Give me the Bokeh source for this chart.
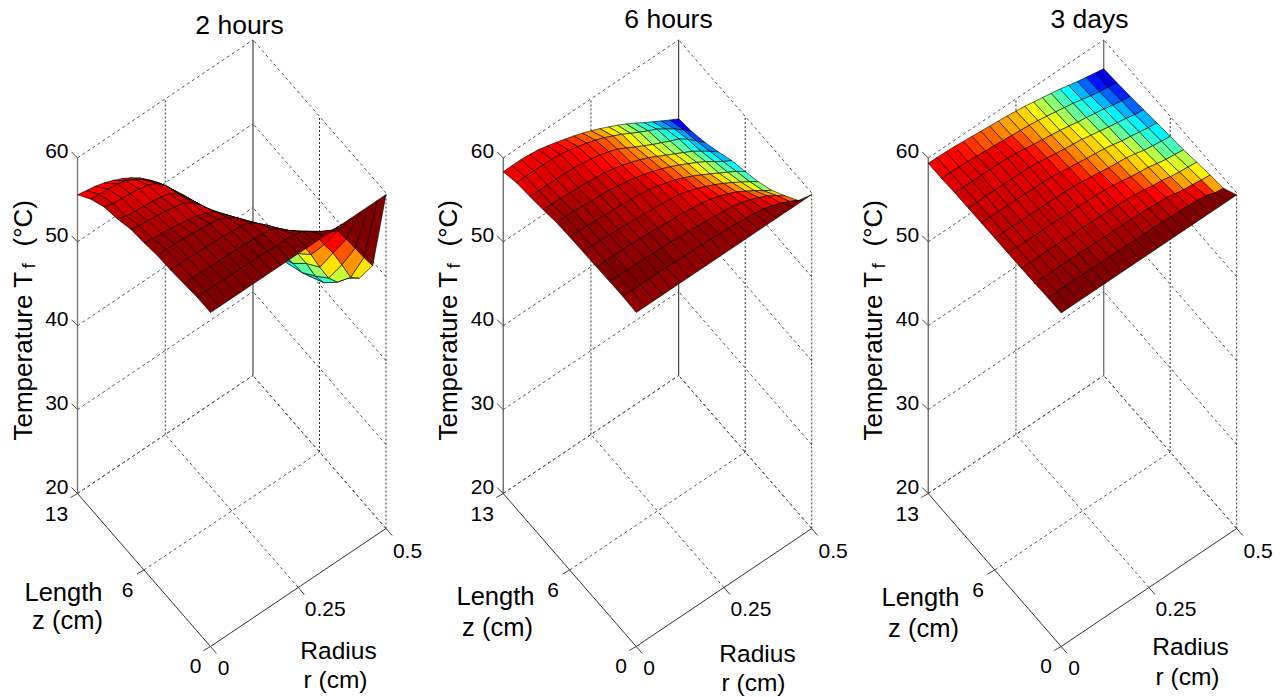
import numpy as np
from bokeh.embed import file_html
from bokeh.resources import INLINE
from bokeh.plotting import figure
from bokeh.layouts import row
from bokeh.models import Range1d, ColumnDataSource
from bokeh.core.properties import value

# ---------- data ----------
panel_titles = ["2 hours", "6 hours", "3 days"]
r_nodes = [0.0, 0.025, 0.05, 0.075, 0.1, 0.125, 0.15, 0.175, 0.2, 0.225, 0.25,
           0.275, 0.3, 0.325, 0.35, 0.375, 0.4, 0.425, 0.45, 0.475, 0.5]
z_nodes = [0.0, 1.3, 2.6, 3.9, 5.2, 6.5, 7.8, 9.1, 10.4, 11.7, 13.0]
r_ticks = [0.0, 0.25, 0.5]
r_labels = ["0", "0.25", "0.5"]
z_ticks = [0.0, 6.5, 13.0]
z_labels = ["0", "6", "13"]
t_ticks = [20, 30, 40, 50, 60]
t_labels = ["20", "30", "40", "50", "60"]

# Temperature (deg C); one row per z node, one column per r node
T_2h = [
 [59.8]*21,
 [59.8,59.8,59.8,59.8,59.75,59.75,59.7,59.7,59.65,59.6,59.6,59.5,59.2,58.5,57.8,57.0,56.5,54.8,53.0,51.2,49.5],
 [59.6,59.6,59.6,59.55,59.5,59.5,59.45,59.4,59.3,59.2,59.1,58.4,57.5,56.7,56.0,55.0,53.0,51.3,49.2,47.0,46.2],
 [59.4,59.4,59.4,59.35,59.3,59.25,59.2,59.1,59.0,58.7,57.9,57.0,56.0,55.0,53.5,52.0,50.0,47.8,45.8,44.6,44.3],
 [59.3,59.3,59.25,59.2,59.1,59.0,58.85,58.7,58.2,57.5,56.5,55.5,54.3,52.7,51.0,49.8,48.3,46.4,44.2,42.7,42.5],
 [59.0,58.8,58.7,58.6,58.4,58.2,58.0,57.6,57.1,56.1,55.1,54.0,52.4,50.7,49.0,47.5,46.2,44.6,42.8,41.6,41.4],
 [58.8,58.5,58.4,58.3,58.1,57.9,57.7,57.0,56.0,54.8,53.7,52.6,51.5,49.6,48.0,46.5,45.0,43.5,42.0,40.8,40.4],
 [58.2,57.8,57.7,57.6,57.5,57.3,57.0,56.2,55.0,53.8,52.5,51.3,50.2,49.0,47.4,45.9,44.5,43.1,41.7,40.4,39.5],
 [57.8,57.5,57.4,57.3,57.1,56.9,56.4,55.4,54.1,52.9,51.6,50.3,49.0,47.8,46.6,45.4,44.0,42.6,41.2,39.7,38.0],
 [56.9,56.8,56.7,56.6,56.3,55.7,55.0,54.1,53.1,51.9,50.6,49.3,48.0,46.8,45.5,44.2,43.0,41.8,40.5,38.6,36.5],
 [55.6,55.4,55.2,54.9,54.5,54.0,53.4,52.7,51.8,50.8,49.7,48.4,47.1,45.8,44.6,43.4,42.3,41.3,40.2,37.0,35.0],
]
T_6h = [
 [59.8]*21,
 [59.90,59.90,59.88,59.87,59.85,59.83,59.80,59.78,59.75,59.72,59.68,59.63,59.56,59.48,59.38,59.25,59.05,58.75,58.35,57.85,57.27],
 [59.85,59.84,59.82,59.80,59.77,59.73,59.69,59.65,59.58,59.50,59.42,59.32,59.22,59.10,58.95,58.72,58.35,57.90,57.40,56.75,56.00],
 [59.80,59.78,59.75,59.72,59.67,59.62,59.54,59.47,59.38,59.30,59.20,59.08,58.92,58.70,58.35,57.95,57.45,56.85,56.20,55.50,54.83],
 [59.75,59.72,59.68,59.63,59.57,59.50,59.42,59.34,59.25,59.15,59.00,58.85,58.55,58.15,57.70,57.20,56.65,56.05,55.40,54.75,54.03],
 [59.70,59.68,59.62,59.55,59.48,59.42,59.34,59.25,59.15,59.00,58.75,58.40,58.05,57.60,57.10,56.55,55.95,55.35,54.75,54.15,53.42],
 [59.60,59.58,59.53,59.45,59.37,59.30,59.20,59.05,58.83,58.58,58.30,57.95,57.55,57.10,56.60,56.05,55.50,54.90,54.20,53.50,52.90],
 [59.30,59.25,59.20,59.15,59.10,59.00,58.90,58.78,58.55,58.25,57.90,57.50,57.05,56.50,55.95,55.40,54.85,54.30,53.60,52.90,52.10],
 [59.06,59.05,59.02,59.00,58.97,58.92,58.78,58.60,58.35,58.05,57.65,57.10,56.50,55.95,55.40,54.90,54.40,53.95,53.20,52.30,51.40],
 [58.85,58.88,58.88,58.87,58.84,58.75,58.50,58.25,57.95,57.60,57.20,56.70,56.20,55.60,55.05,54.50,54.00,53.30,52.60,51.80,50.88],
 [58.35,58.38,58.38,58.30,58.15,57.90,57.62,57.30,56.98,56.62,56.20,55.75,55.25,54.75,54.20,53.60,52.95,52.35,51.75,51.15,50.60],
]
T_3d = [
 [60.0]*21,
 [59.97,59.97,59.97,59.95,59.94,59.94,59.92,59.92,59.90,59.90,59.89,59.87,59.86,59.84,59.78,59.74,59.68,59.62,59.49,59.10,58.98],
 [59.90,59.90,59.90,59.89,59.87,59.87,59.86,59.84,59.82,59.81,59.79,59.76,59.71,59.68,59.58,59.55,59.30,59.10,58.98,58.82,58.72],
 [59.85,59.85,59.84,59.83,59.82,59.81,59.79,59.77,59.75,59.72,59.69,59.65,59.60,59.49,59.36,59.14,59.04,58.82,58.66,58.56,58.43],
 [59.83,59.82,59.81,59.80,59.79,59.78,59.76,59.74,59.72,59.69,59.65,59.57,59.46,59.30,59.10,58.94,58.82,58.56,58.34,58.21,58.08],
 [59.80,59.79,59.78,59.77,59.76,59.75,59.73,59.71,59.68,59.62,59.50,59.36,59.20,59.04,58.94,58.82,58.59,58.30,58.14,57.98,57.86],
 [59.78,59.77,59.76,59.75,59.74,59.72,59.70,59.68,59.63,59.48,59.33,59.20,59.04,58.91,58.78,58.56,58.30,58.14,57.95,57.76,57.63],
 [59.75,59.74,59.73,59.72,59.71,59.69,59.67,59.64,59.55,59.37,59.20,59.05,58.91,58.78,58.56,58.34,58.14,57.95,57.76,57.50,57.38],
 [59.72,59.71,59.70,59.69,59.67,59.65,59.62,59.52,59.36,59.18,59.03,58.88,58.72,58.53,58.30,58.14,57.95,57.76,57.50,57.31,57.15],
 [59.62,59.60,59.58,59.52,59.46,59.36,59.30,59.20,59.10,59.01,58.91,58.78,58.59,58.40,58.21,58.02,57.76,57.50,57.28,57.12,56.96],
 [59.60,59.58,59.55,59.49,59.39,59.30,59.20,59.10,59.01,58.91,58.78,58.66,58.46,58.27,58.08,57.89,57.63,57.38,57.18,56.99,56.80],
]
tables = [T_2h, T_6h, T_3d]

# ---------- layout of the three boxes ----------
FONT = value("Liberation Sans")
Y_TOP, Y_BOTTOM = 0, 697
figure_edges = [(0, 430), (430, 855), (855, 1284)]
front_corner_x = [210.0, 635.7, 1060.7]
surface_drop = [0.0, 0.0, 2.0]
title_pos = [(239, 24), (668, 18), (1089, 18)]
axis_label_pos = [
    {"t": 22, "len": (63, 591), "z": (67, 619), "rad": (338, 650), "r": (335, 679)},
    {"t": 447, "len": (495, 595), "z": (497, 626), "rad": (757, 653), "r": (753, 682)},
    {"t": 872, "len": (920, 596), "z": (923, 627), "rad": (1190, 646), "r": (1187, 676)},
]
left_edge_style = [("#777777", 1.4), ("#333333", 1.0), ("#333333", 1.0)]
back_edge_style = [("#222222", 1.0), ("#222222", 1.0), ("#777777", 1.4)]
FRONT_Y = 646.0
RX, RY = 175.5, -118.0     # screen vector for the full r range
ZX, ZY = -133.0, -153.0    # screen vector for the full z range
PX_PER_DEG = 8.39


def project(x0, r, z, t):
    """Oblique projection of (r, z, T) to page pixels for one box."""
    r, z, t = np.asarray(r, float), np.asarray(z, float), np.asarray(t, float)
    fr, fz = r / 0.5, z / 13.0
    return x0 + RX * fr + ZX * fz, FRONT_Y + RY * fr + ZY * fz - PX_PER_DEG * (t - 20.0)


def jet(v):
    v = float(np.clip(v, 0.0, 1.0))
    v = round(v * 63) / 63
    ch = lambda a, b: np.clip(min(4 * v + a, -4 * v + b), 0, 1)
    return "#%02x%02x%02x" % tuple(int(round(255 * c)) for c in
                                   (ch(-1.5, 4.5), ch(-0.5, 3.5), ch(0.5, 2.5)))


def seg(p, x0, a, b, **kw):
    xa, ya = project(x0, *a)
    xb, yb = project(x0, *b)
    p.line([float(xa), float(xb)], [float(ya), float(yb)], **kw)


def label(p, x, y, s, size, align="center", angle=0.0):
    p.text([x], [y], text=[s], text_font=FONT, text_font_size=f"{size}px", text_color="#000000",
           text_align=align, text_baseline="middle", angle=angle)


def make_panel(i):
    x_lo, x_hi = figure_edges[i]
    x0 = front_corner_x[i]
    T = np.array(tables[i], float)
    p = figure(width=x_hi - x_lo, height=Y_BOTTOM - Y_TOP, output_backend="svg", toolbar_location=None,
               x_range=Range1d(x_lo, x_hi), y_range=Range1d(Y_BOTTOM, Y_TOP),
               min_border=0, outline_line_color=None, background_fill_color="white")
    p.axis.visible = False
    p.grid.visible = False

    rmin, rmax = r_ticks[0], r_ticks[-1]
    zmin, zmax = z_ticks[0], z_ticks[-1]
    tmin, tmax = t_ticks[0], t_ticks[-1]
    dash = dict(line_color="#555555", line_width=1, line_dash="3 3")
    vdash = dict(line_color="#333333", line_width=1, line_dash="2 2")

    # floor grid
    for r in r_ticks[1:]:
        seg(p, x0, (r, zmin, tmin), (r, zmax, tmin), **dash)
    for z in z_ticks[1:]:
        seg(p, x0, (rmin, z, tmin), (rmax, z, tmin), **dash)
    # wall grid
    for t in t_ticks:
        seg(p, x0, (rmin, zmax, t), (rmax, zmax, t), **dash)
        seg(p, x0, (rmax, zmin, t), (rmax, zmax, t), **dash)
    for r in r_ticks[1:2]:
        seg(p, x0, (r, zmax, tmin), (r, zmax, tmax), **vdash)
    for z in z_ticks[:2]:
        seg(p, x0, (rmax, z, tmin), (rmax, z, tmax), **vdash)
    # solid box edges
    solid = dict(line_color="#333333", line_width=1)
    seg(p, x0, (rmax, zmax, tmin), (rmax, zmax, tmax),
        line_color=back_edge_style[i][0], line_width=back_edge_style[i][1])
    seg(p, x0, (rmin, zmax, tmin), (rmin, zmax, tmax),
        line_color=left_edge_style[i][0], line_width=left_edge_style[i][1])
    seg(p, x0, (rmin, zmin, tmin), (rmin, zmax, tmin), **solid)
    seg(p, x0, (rmin, zmin, tmin), (rmax, zmin, tmin), **solid)

    # ticks and tick labels
    tick = dict(line_color="#444444", line_width=1)
    for t, s in zip(t_ticks, t_labels):
        x, y = project(x0, rmin, zmax, t)
        x, y = float(x), float(y)
        p.line([x, x - 6], [y, y - 6], **tick)
        label(p, x - 9, y - 7, s, 21, align="right")
    z_off = [(-15, 19), (-16.5, 19.5), (-21, 20)]
    for z, s, (dx, dy) in zip(z_ticks, z_labels, z_off):
        x, y = project(x0, rmin, z, tmin)
        x, y = float(x), float(y)
        p.line([x, x - 7], [y, y + 4], **tick)
        label(p, x + dx, y + dy, s, 21)
    r_off = [(13, 21), (27, 21), (21.5, 22)]
    for r, s, (dx, dy) in zip(r_ticks, r_labels, r_off):
        x, y = project(x0, r, zmin, tmin)
        x, y = float(x), float(y)
        p.line([x, x + 6], [y, y + 7], **tick)
        label(p, x + dx, y + dy, s, 21)

    # faceted surface, far cells first, coloured from each cell's first corner
    lo, hi = T.min(), T.max()
    drop = surface_drop[i]
    xs, ys, cols = [], [], []
    for iz in range(len(z_nodes) - 2, -1, -1):
        for ir in range(len(r_nodes) - 2, -1, -1):
            rr = [r_nodes[ir], r_nodes[ir + 1], r_nodes[ir + 1], r_nodes[ir]]
            zz = [z_nodes[iz], z_nodes[iz], z_nodes[iz + 1], z_nodes[iz + 1]]
            tt = [T[iz, ir], T[iz, ir + 1], T[iz + 1, ir + 1], T[iz + 1, ir]]
            px, py = project(x0, rr, zz, tt)
            xs.append(px.tolist())
            ys.append((py + drop).tolist())
            cols.append(jet((T[iz, ir] - lo) / (hi - lo)))
    src = ColumnDataSource(dict(xs=xs, ys=ys, c=cols))
    p.patches("xs", "ys", source=src, fill_color="c", line_color="#000000", line_width=0.7, line_alpha=0.85)

    # title and axis labels
    tx, ty = title_pos[i]
    label(p, tx, ty, panel_titles[i], 26.5)
    lab = axis_label_pos[i]
    label(p, *lab["len"], "Length", 25.5)
    label(p, *lab["z"], "z (cm)", 25.5)
    label(p, *lab["rad"], "Radius", 24.5)
    label(p, *lab["r"], "r (cm)", 24.5)
    tb = lab["t"]
    label(p, tb, 440, "Temperature T", 26, align="left", angle=np.pi / 2)
    label(p, tb + 6, 268, "f", 19, align="left", angle=np.pi / 2)
    label(p, tb, 246, "(°C)", 26, align="left", angle=np.pi / 2)
    return p


layout = row(*[make_panel(i) for i in range(3)], spacing=0)
open("out.html", "w").write(file_html(layout, INLINE))
